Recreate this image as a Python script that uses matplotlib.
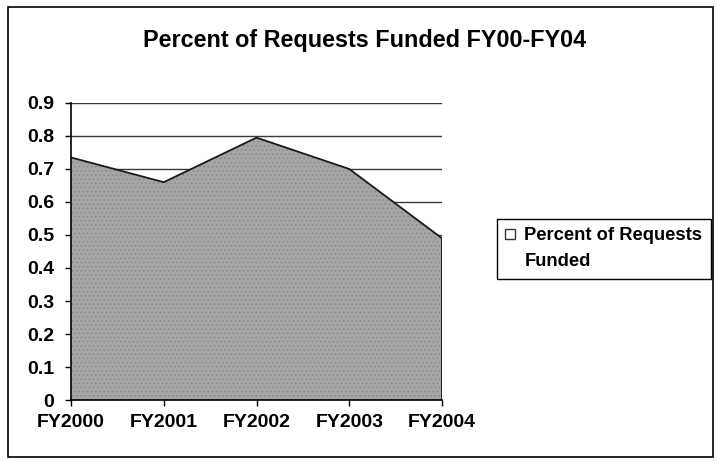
import matplotlib.pyplot as plt
from matplotlib.patches import Patch, Rectangle
from matplotlib.legend_handler import HandlerPatch

# data
years = ["FY2000", "FY2001", "FY2002", "FY2003", "FY2004"]
pct_funded = [0.735, 0.66, 0.795, 0.70, 0.49]
yticks = [0, 0.1, 0.2, 0.3, 0.4, 0.5, 0.6, 0.7, 0.8, 0.9]
ytick_labels = ["0", "0.1", "0.2", "0.3", "0.4", "0.5", "0.6", "0.7", "0.8", "0.9"]

plt.rcParams['font.family'] = ['Liberation Sans', 'DejaVu Sans']
plt.rcParams['hatch.linewidth'] = 0.6

fig = plt.figure(figsize=(7.18, 4.61), dpi=100)
ax = fig.add_axes([0.0989, 0.1323, 0.5167, 0.6443])

x = list(range(len(years)))

# gridlines sit behind the area
for y in yticks[1:]:
    ax.axhline(y, color='#3a3a3a', lw=1.0, zorder=1)

ax.fill_between(x, pct_funded, 0, facecolor='#a6a6a6', edgecolor='#888888',
                hatch='....', linewidth=0, zorder=2)
ax.plot(x, pct_funded, color='#1a1a1a', lw=1.3, zorder=3)
ax.plot([x[-1], x[-1]], [0, pct_funded[-1]], color='#1a1a1a', lw=1.3, zorder=3)

ax.set_xlim(x[0], x[-1])
ax.set_ylim(0, 0.9)
ax.set_xticks(x)
ax.set_xticklabels(years)
ax.set_yticks(yticks)
ax.set_yticklabels(ytick_labels)
ax.tick_params(axis='both', labelsize=14, length=4, width=1, color='black', direction='out')
ax.tick_params(axis='x', pad=6)
ax.tick_params(axis='y', pad=8)
for lab in ax.get_xticklabels() + ax.get_yticklabels():
    lab.set_fontweight('bold')

for side in ['top', 'right']:
    ax.spines[side].set_visible(False)
ax.spines['left'].set_linewidth(1.2)
ax.spines['bottom'].set_linewidth(1.2)
ax.spines['left'].set_zorder(4)
ax.spines['bottom'].set_zorder(4)

fig.text(0.508, 0.913, "Percent of Requests Funded FY00-FY04", ha='center', va='center',
         fontsize=16.8, fontweight='bold')


# small square sitting next to the first line of the label
def top_square(legend, orig_handle, xdescent, ydescent, width, height, fontsize):
    s = 7
    return Rectangle((-xdescent, -ydescent + height - s + 3), s, s)


handle = Patch(facecolor='white', edgecolor='#333333', linewidth=1.0)
leg = fig.legend([handle], ["Percent of Requests\nFunded"], loc='upper left',
                 bbox_to_anchor=(0.692, 0.525), bbox_transform=fig.transFigure,
                 borderaxespad=0, fancybox=False, framealpha=1, edgecolor='black',
                 prop={'size': 13.2, 'weight': 'bold'}, handlelength=0.4, handleheight=2.4,
                 handletextpad=0.65, borderpad=0.45,
                 handler_map={Patch: HandlerPatch(patch_func=top_square)})
leg.get_frame().set_linewidth(1.0)
for t in leg.get_texts():
    t.set_linespacing(1.7)

fig.patches.append(Rectangle((0.011, 0.008), 0.982, 0.977, transform=fig.transFigure,
                             fill=False, edgecolor='black', lw=1.2))

fig.savefig("out.png", dpi=100)
